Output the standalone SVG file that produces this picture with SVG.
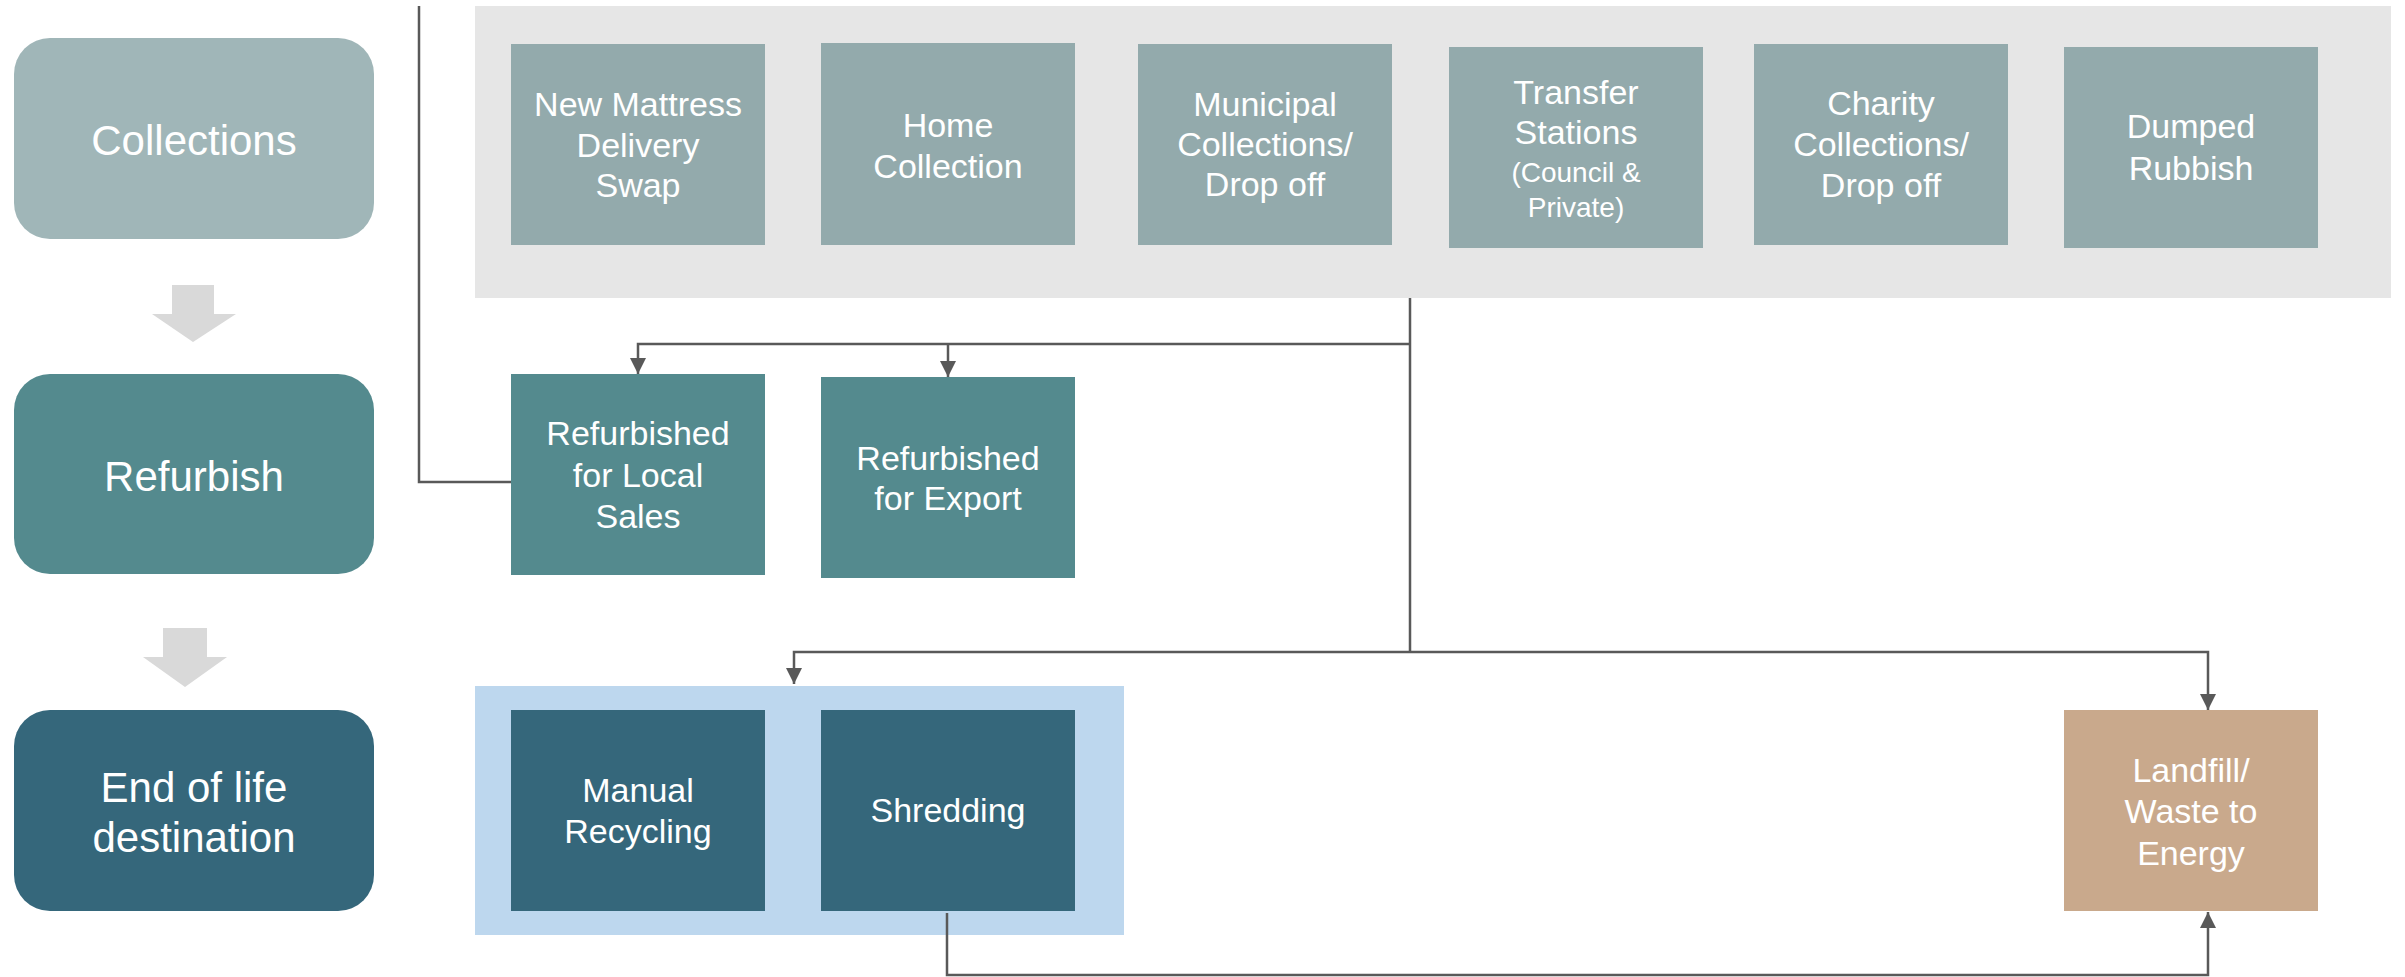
<svg xmlns="http://www.w3.org/2000/svg" width="2405" height="977" viewBox="0 0 2405 977">
<defs>
<style>
.t{font-family:"Liberation Sans",Arial,sans-serif;fill:#ffffff;text-anchor:middle}
.big{font-size:42px}
.sm{font-size:34px}
.xs{font-size:28px}
.ln{fill:none;stroke:#595959;stroke-width:2.5}
.c{fill:#93AAAC}
.r{fill:#548A8E}
.e{fill:#35677B}
.ga{fill:#D9D9D9}
</style>
<marker id="ah" viewBox="0 0 16 16" refX="16" refY="8" markerWidth="16" markerHeight="16" markerUnits="userSpaceOnUse" orient="auto">
<path d="M0,0 L16,8 L0,16 Z" fill="#595959"/>
</marker>
</defs>
<rect width="2405" height="977" fill="#ffffff"/>

<g id="collections-panel"><rect x="475" y="6" width="1916" height="292" fill="#E6E6E6"/></g>
<g id="eol-panel"><rect x="475" y="686" width="649" height="249" fill="#BDD7EE"/></g>

<g id="stage-collections">
<rect x="14" y="38" width="360" height="201" rx="36" ry="36" fill="#A0B6B8"/>
<text class="t big" x="194" y="155">Collections</text>
</g>
<g id="stage-refurbish">
<rect x="14" y="374" width="360" height="200" rx="36" ry="36" fill="#548A8E"/>
<text class="t big" x="194" y="491">Refurbish</text>
</g>
<g id="stage-eol">
<rect x="14" y="710" width="360" height="201" rx="36" ry="36" fill="#35677B"/>
<text class="t big" x="194" y="802">End of life</text>
<text class="t big" x="194" y="852">destination</text>
</g>

<g id="step-arrow-1"><polygon class="ga" points="172,285 214,285 214,314 236,314 193,342 152,314 172,314"/></g>
<g id="step-arrow-2"><polygon class="ga" points="163,628 207,628 207,657 227,657 185,687 143,657 163,657"/></g>

<g id="new-mattress">
<rect class="c" x="511" y="44" width="254" height="201"/>
<text class="t sm" x="638" y="116">New Mattress</text>
<text class="t sm" x="638" y="157">Delivery</text>
<text class="t sm" x="638" y="197">Swap</text>
</g>
<g id="home-collection">
<rect class="c" x="821" y="43" width="254" height="202"/>
<text class="t sm" x="948" y="137">Home</text>
<text class="t sm" x="948" y="178">Collection</text>
</g>
<g id="municipal">
<rect class="c" x="1138" y="44" width="254" height="201"/>
<text class="t sm" x="1265" y="116">Municipal</text>
<text class="t sm" x="1265" y="156">Collections/</text>
<text class="t sm" x="1265" y="196">Drop off</text>
</g>
<g id="transfer">
<rect class="c" x="1449" y="47" width="254" height="201"/>
<text class="t sm" x="1576" y="104">Transfer</text>
<text class="t sm" x="1576" y="144">Stations</text>
<text class="t xs" x="1576" y="182">(Council &amp;</text>
<text class="t xs" x="1576" y="217">Private)</text>
</g>
<g id="charity">
<rect class="c" x="1754" y="44" width="254" height="201"/>
<text class="t sm" x="1881" y="115">Charity</text>
<text class="t sm" x="1881" y="156">Collections/</text>
<text class="t sm" x="1881" y="197">Drop off</text>
</g>
<g id="dumped">
<rect class="c" x="2064" y="47" width="254" height="201"/>
<text class="t sm" x="2191" y="138">Dumped</text>
<text class="t sm" x="2191" y="180">Rubbish</text>
</g>

<g id="refurb-local">
<rect class="r" x="511" y="374" width="254" height="201"/>
<text class="t sm" x="638" y="445">Refurbished</text>
<text class="t sm" x="638" y="487">for Local</text>
<text class="t sm" x="638" y="528">Sales</text>
</g>
<g id="refurb-export">
<rect class="r" x="821" y="377" width="254" height="201"/>
<text class="t sm" x="948" y="470">Refurbished</text>
<text class="t sm" x="948" y="510">for Export</text>
</g>

<g id="manual-recycling">
<rect class="e" x="511" y="710" width="254" height="201"/>
<text class="t sm" x="638" y="802">Manual</text>
<text class="t sm" x="638" y="843">Recycling</text>
</g>
<g id="shredding">
<rect class="e" x="821" y="710" width="254" height="201"/>
<text class="t sm" x="948" y="822">Shredding</text>
</g>
<g id="landfill">
<rect x="2064" y="710" width="254" height="201" fill="#C9A98C"/>
<text class="t sm" x="2191" y="782">Landfill/</text>
<text class="t sm" x="2191" y="823">Waste to</text>
<text class="t sm" x="2191" y="865">Energy</text>
</g>

<g id="connectors">
<path class="ln" d="M419,6 V482 H511"/>
<path class="ln" d="M1410,298 V652"/>
<path class="ln" d="M1410,344 H638 V374" marker-end="url(#ah)"/>
<path class="ln" d="M948,344 V377" marker-end="url(#ah)"/>
<path class="ln" d="M1410,652 H794 V684" marker-end="url(#ah)"/>
<path class="ln" d="M1410,652 H2208 V710" marker-end="url(#ah)"/>
<path class="ln" d="M947,913 V975 H2208 V912" marker-end="url(#ah)"/>
</g>
</svg>
